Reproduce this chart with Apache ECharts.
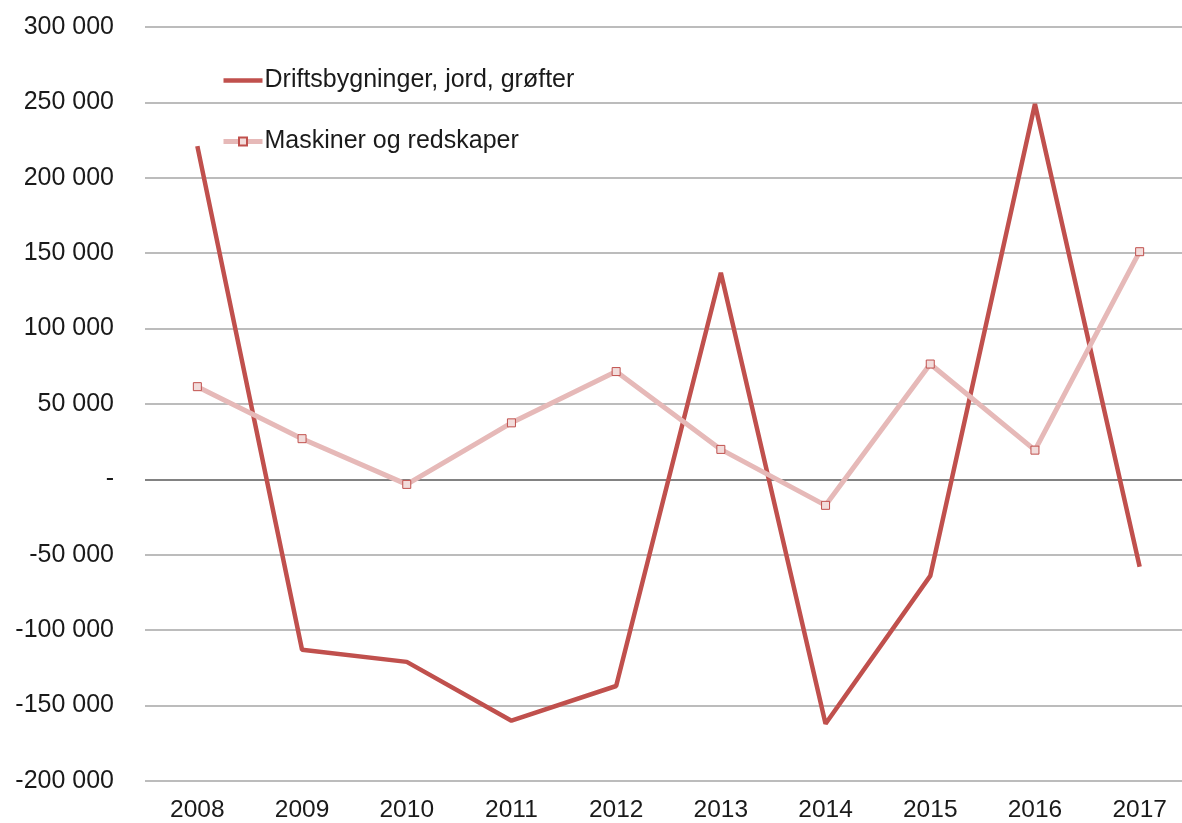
<!DOCTYPE html>
<html>
<head>
<meta charset="utf-8">
<script src="https://cdn.jsdelivr.net/npm/echarts@6/dist/echarts.min.js"></script>
<style>
html,body{margin:0;padding:0;background:#fff;}
#chart{width:1182px;height:823px;}
</style>
</head>
<body>
<div id="chart"></div>
<script>
const categories = ['2008','2009','2010','2011','2012','2013','2014','2015','2016','2017'];
const seriesNames = ['Driftsbygninger, jord, grøfter', 'Maskiner og redskaper'];
const drift = [221000, -113000, -121000, -160000, -137000, 137000, -162000, -64000, 249000, -58000];
const maskiner = [61500, 27000, -3300, 37500, 71500, 19900, -17200, 76500, 19400, 151000];
const yMin = -200000, yMax = 300000, yStep = 50000;

function fmt(v){
  if (v === 0) return '-';
  const s = Math.abs(v).toString().replace(/\B(?=(\d{3})+(?!\d))/g, ' ');
  return (v < 0 ? '-' : '') + s;
}
const nLines = Math.round((yMax - yMin) / yStep) + 1;
const splitColors = [];
for (let i = 0; i < nLines; i++) splitColors.push(yMin + i * yStep === 0 ? '#595959' : '#a6a6a6');

const FONT = '"Liberation Sans", Arial, sans-serif';
const chart = echarts.init(document.getElementById('chart'), null, {renderer:'canvas'});
chart.setOption({
  animation: false,
  backgroundColor: '#ffffff',
  textStyle: { fontFamily: FONT },
  grid: { left: 145, top: 27, right: -10, bottom: 42, containLabel: false, outerBoundsMode: 'none' },
  legend: {
    orient: 'vertical',
    left: 216,
    top: 63,
    itemWidth: 39,
    itemHeight: 10,
    itemGap: 36,
    textStyle: { fontSize: 25, color: '#1a1a1a', fontFamily: FONT, padding: [0,0,0,-3] },
    data: [
      { name: seriesNames[0], itemStyle: { opacity: 0 }, lineStyle: { width: 4.5 } },
      { name: seriesNames[1], lineStyle: { width: 5 } }
    ]
  },
  xAxis: {
    type: 'category',
    data: categories,
    boundaryGap: true,
    axisLine: { show: false },
    axisTick: { show: false },
    axisLabel: { fontSize: 24.5, color: '#1a1a1a', margin: 17 }
  },
  yAxis: {
    type: 'value',
    min: yMin, max: yMax, interval: yStep,
    axisLine: { show: false },
    axisTick: { show: false },
    axisLabel: { fontSize: 25, color: '#1a1a1a', margin: 31, formatter: fmt },
    splitLine: { show: true, lineStyle: { color: splitColors, width: 1.5 } }
  },
  series: [
    {
      name: seriesNames[0],
      type: 'line',
      data: drift,
      symbol: 'none',
      lineStyle: { color: '#c0504d', width: 4.5 },
      itemStyle: { color: '#c0504d' },
      z: 2
    },
    {
      name: seriesNames[1],
      type: 'line',
      data: maskiner,
      symbol: 'rect',
      symbolSize: 8,
      showSymbol: true,
      lineStyle: { color: '#e6b9b8', width: 5 },
      itemStyle: { color: '#f2dcdb', borderColor: '#c0504d', borderWidth: 1 },
      z: 3
    }
  ]
});
</script>
</body>
</html>
